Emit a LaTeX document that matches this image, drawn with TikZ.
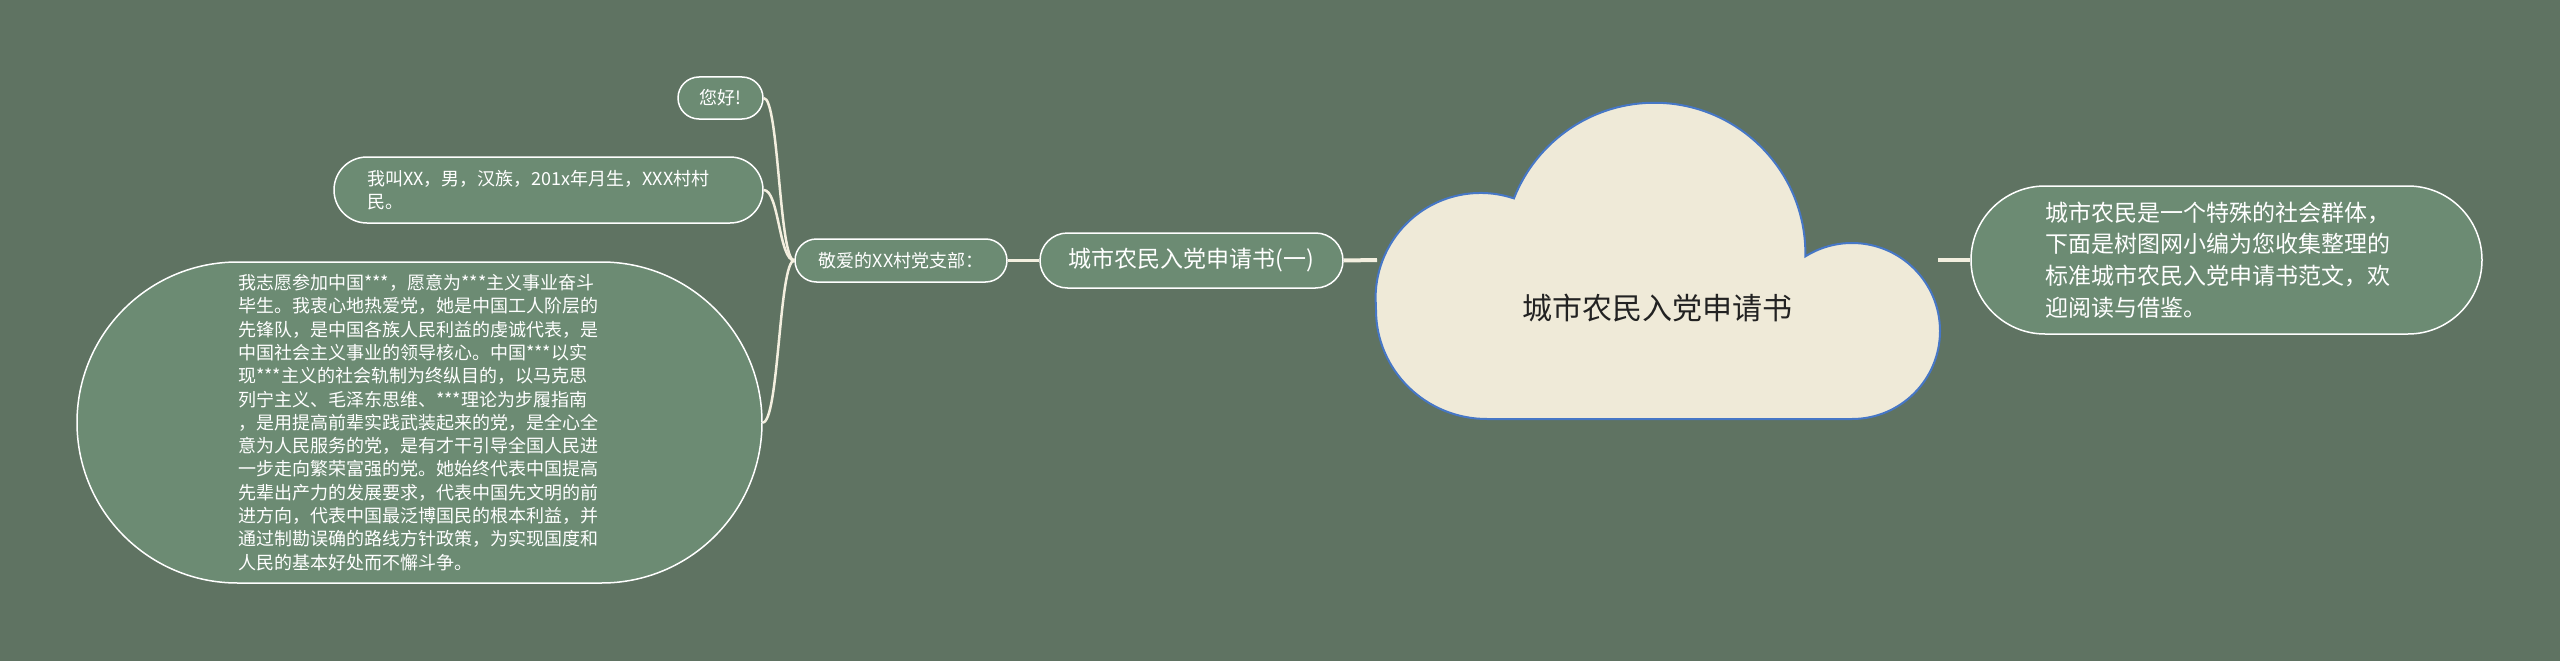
\documentclass[tikz,border=0pt]{standalone}
\usepackage{fontspec}
\setmainfont{Noto Sans CJK SC}
\usetikzlibrary{shapes.misc}
\definecolor{bg}{HTML}{5F7362}
\definecolor{nodefill}{HTML}{6C8B73}
\definecolor{edgecol}{HTML}{F3EFDF}
\definecolor{cloudfill}{HTML}{EFEAD8}
\definecolor{cloudline}{HTML}{4677C6}
\definecolor{ink}{HTML}{222222}
\tikzset{
  pill/.style={rounded rectangle, draw=white, line width=1.5pt, fill=nodefill, text=white, inner sep=0pt},
  smalltext/.style={font=\fontsize{18}{23.3}\selectfont},
  bigtext/.style={font=\fontsize{23}{31.7}\selectfont},
  link/.style={draw=edgecol, line width=2.5pt},
  mainlink/.style={draw=edgecol, line width=4pt},
  cloudshape/.style={fill=cloudfill, draw=cloudline, line width=2pt},
}
\begin{document}
\begin{tikzpicture}[x=1pt,y=1pt]
\useasboundingbox (0,0) rectangle (2560,-661);
\fill[bg] (0,0) rectangle (2560,-661);

% cloud (root)
\draw[cloudshape] (1376,-310)
  arc[start angle=180,end angle=270,x radius=111,y radius=109]
  -- (1852,-419)
  arc[start angle=270,end angle=360,radius=88]
  arc[start angle=0,end angle=122,radius=88]
  arc[start angle=-1,end angle=158.5,radius=151]
  arc[start angle=71.5,end angle=180,radius=105]
  -- cycle;
\node[font=\fontsize{30}{36}\selectfont, text=ink] (root) at (1657,-308) {城市农民入党申请书};
\coordinate (rootL) at (1377,-260);
\coordinate (rootR) at (1938,-260);

% nodes
\node[pill, bigtext, minimum width=511pt, minimum height=148pt, text width=363pt, align=left] (intro) at (2226.5,-260)
  {城市农民是一个特殊的社会群体，\\下面是树图网小编为您收集整理的\\标准城市农民入党申请书范文，欢\\迎阅读与借鉴。};
\node[pill, font=\fontsize{23}{28}\selectfont, minimum width=303pt, minimum height=55pt] (sub) at (1191.5,-260.5) {城市农民入党申请书(一)};
\node[pill, smalltext, minimum width=212pt, minimum height=43pt] (dear) at (901,-260.5) {敬爱的XX村党支部：};
\node[pill, smalltext, minimum width=85pt, minimum height=42pt] (hello) at (720.5,-98) {您好!};
\node[pill, smalltext, minimum width=429pt, minimum height=66pt, text width=363pt, align=left] (self) at (548.5,-190)
  {我叫XX，男，汉族，201x年月生，XXX村村\\民。};
\node[pill, smalltext, minimum width=685pt, minimum height=321pt, text width=363pt, align=left] (vow) at (419.5,-422.5)
  {我志愿参加中国***，愿意为***主义事业奋斗\\
   毕生。我衷心地热爱党，她是中国工人阶层的\\
   先锋队，是中国各族人民利益的虔诚代表，是\\
   中国社会主义事业的领导核心。中国***以实\\
   现***主义的社会轨制为终纵目的，以马克思\\
   列宁主义、毛泽东思维、***理论为步履指南\\
   ，是用提高前辈实践武装起来的党，是全心全\\
   意为人民服务的党，是有才干引导全国人民进\\
   一步走向繁荣富强的党。她始终代表中国提高\\
   先辈出产力的发展要求，代表中国先文明的前\\
   进方向，代表中国最泛博国民的根本利益，并\\
   通过制勘误确的路线方针政策，为实现国度和\\
   人民的基本好处而不懈斗争。};

% connectors
\draw[mainlink] (sub.east) -- (rootL);
\draw[mainlink] (rootR) -- (intro.west);
\draw[link] (dear.east) -- (sub.west);
\draw[link] (dear.west) .. controls (779,-260.5) and (779,-98) .. (hello.east);
\draw[link] (dear.west) .. controls (779,-260.5) and (779,-190) .. (self.east);
\draw[link] (dear.west) .. controls (779,-260.5) and (779,-422.5) .. (vow.east);
\end{tikzpicture}
\end{document}
